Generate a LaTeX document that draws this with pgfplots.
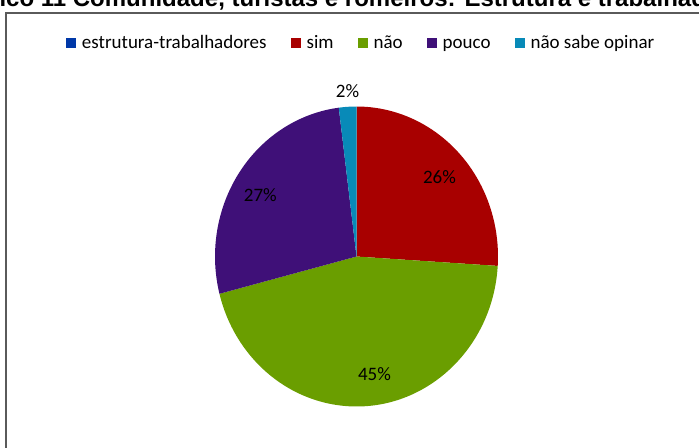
\documentclass[border=0pt]{standalone}
\usepackage{pgfplots}
\pgfplotsset{compat=1.18}
\usepackage{pgfplotstable}
\usepackage{fontspec}
\setmainfont{Carlito}
\newfontfamily\titlefont{Liberation Sans}

\definecolor{cEst}{RGB}{0,56,168}
\definecolor{cSim}{RGB}{168,0,0}
\definecolor{cNao}{RGB}{106,158,0}
\definecolor{cPouco}{RGB}{63,16,120}
\definecolor{cNs}{RGB}{8,138,184}
\definecolor{cFrame}{RGB}{90,90,90}

\pgfplotstableread{
label value
estrutura-trabalhadores 0
sim 26
nao 45
pouco 27
naosabe 2
}\piedata

\pgfplotstablegetelem{1}{value}\of\piedata \let\vSim\pgfplotsretval
\pgfplotstablegetelem{2}{value}\of\piedata \let\vNao\pgfplotsretval
\pgfplotstablegetelem{3}{value}\of\piedata \let\vPouco\pgfplotsretval
\pgfplotstablegetelem{4}{value}\of\piedata \let\vNs\pgfplotsretval

\pgfmathsetmacro\aA{90}
\pgfmathsetmacro\aB{\aA-3.6*\vSim}
\pgfmathsetmacro\aC{\aB-3.6*\vNao}
\pgfmathsetmacro\aD{\aC-3.6*\vPouco}
\pgfmathsetmacro\aE{\aD-3.6*\vNs}

\newcommand\slice[3]{%
  \fill[#3] (axis cs:356.5,256.5) -- ++(#1:141.5bp and 150bp)
    arc[start angle=#1, end angle=#2, x radius=141.5bp, y radius=150bp] -- cycle;}

\newcommand\legsq[1]{\addlegendimage{legend image code/.code={%
  \path[draw=none, fill=#1] (0bp,1bp) rectangle (10bp,11bp);
  \path[draw=none, fill=none] (0bp,0bp) rectangle (16bp,1bp);}}}

\begin{document}
\begin{tikzpicture}
\useasboundingbox (0,0) rectangle (699bp,448bp);
\begin{axis}[
  at={(0,0)}, anchor=south west,
  scale only axis, width=699bp, height=448bp,
  xmin=0, xmax=699, ymin=0, ymax=448, y dir=reverse,
  axis lines=none, ticks=none, clip=false,
  legend columns=-1,
  legend style={
    at={(66/699,1-49/448)}, anchor=base west,
    draw=none, fill=none, inner sep=0pt, outer sep=0pt,
    font=\fontsize{19bp}{22bp}\selectfont,
    nodes={inner sep=0pt},
    /tikz/every even column/.append style={column sep=24bp},
    cells={anchor=base west},
  },
]
\legsq{cEst}\addlegendentry{estrutura-trabalhadores}
\legsq{cSim}\addlegendentry{sim}
\legsq{cNao}\addlegendentry{não}
\legsq{cPouco}\addlegendentry{pouco}
\legsq{cNs}\addlegendentry{não sabe opinar}

\slice{\aA}{\aB}{cSim}
\slice{\aB}{\aC}{cNao}
\slice{\aC}{\aD}{cPouco}
\slice{\aD}{\aE}{cNs}

\begin{scope}[font=\fontsize{19bp}{22bp}\selectfont]
\node[anchor=base] at (axis cs:439.5,183.5) {\vSim\%};
\node[anchor=base] at (axis cs:374.5,380.7) {\vNao\%};
\node[anchor=base] at (axis cs:260.3,201) {\vPouco\%};
\node[anchor=base] at (axis cs:347.5,97.3) {\vNs\%};
\end{scope}

\draw[line width=2bp, cFrame] (axis cs:6.5,470) -- (axis cs:6.5,13.5) -- (axis cs:720,13.5);
\node[anchor=base west, inner sep=0pt, font=\titlefont\bfseries\fontsize{24bp}{28bp}\selectfont]
  at (axis cs:-50,6.5) {Gráfico 11 Comunidade, turistas e romeiros: Estrutura e trabalhadores};
\end{axis}
\end{tikzpicture}
\end{document}
